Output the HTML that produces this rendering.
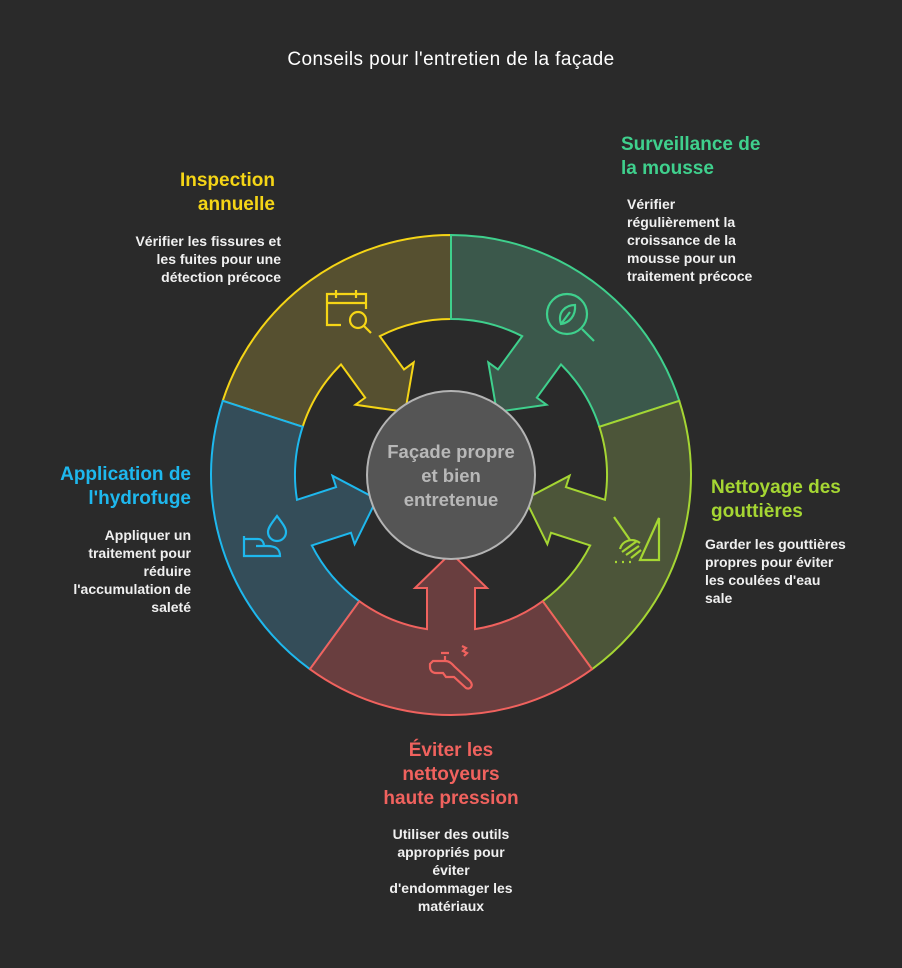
<!DOCTYPE html>
<html><head><meta charset="utf-8"><style>
html,body{margin:0;padding:0;background:#2a2a2a;}
body{width:902px;height:968px;position:relative;overflow:hidden;font-family:"Liberation Sans",sans-serif;}
.t{position:absolute;white-space:nowrap;}
.h{font-weight:bold;font-size:19px;line-height:24px;}
.b{color:#f0f0f0;font-size:14px;line-height:18px;font-weight:bold;}
.r{text-align:right}.c{text-align:center}
</style></head><body>
<svg width="902" height="968" style="position:absolute;left:0;top:0">
<defs>
<path id="seg" d="M 141.07 194.16 A 240 240 0 0 1 -141.07 194.16 L -91.69 126.21 A 156 156 0 0 0 -24 154.14 L -24 113 L -36 113 L 0 78 L 36 113 L 24 113 L 24 154.14 A 156 156 0 0 0 91.69 126.21 Z"/>
</defs>
<g transform="translate(451,475)" stroke-width="2" stroke-linejoin="miter">
<use href="#seg" transform="rotate(144)" fill="#565030" stroke="#f5d516"/>
<use href="#seg" transform="rotate(216)" fill="#3b584b" stroke="#3fd08d"/>
<use href="#seg" transform="rotate(-72)" fill="#4c5539" stroke="#a5d633"/>
<use href="#seg" transform="rotate(72)" fill="#344d59" stroke="#1eb8ee"/>
<use href="#seg" fill="#693e3f" stroke="#f0625e"/>
<circle r="84" fill="#555555" stroke="#b4b4b4" stroke-width="2"/>
</g>
<text x="451" y="458" text-anchor="middle" font-family="Liberation Sans" font-weight="bold" font-size="18.5" fill="#b8b8b8">Façade propre</text>
<text x="451" y="482" text-anchor="middle" font-family="Liberation Sans" font-weight="bold" font-size="18.5" fill="#b8b8b8">et bien</text>
<text x="451" y="506" text-anchor="middle" font-family="Liberation Sans" font-weight="bold" font-size="18.5" fill="#b8b8b8">entretenue</text>
<g fill="none" stroke="#f5d516" stroke-width="2.2">
<path d="M341 325 H327 V294 H366 V309 M327 303 H366 M336 290 V298 M356 290 V298"/>
<circle cx="358" cy="320" r="8"/><path d="M364 326 L371 333"/>
</g>
<g fill="none" stroke="#3fd08d" stroke-width="2.2">
<circle cx="567" cy="314" r="20"/><path d="M582 329 L594 341"/>
<path d="M561 324 C557 312 566 305 575 305 C576 316 569 323 561 324 Z M561 324 L570 312"/>
</g>
<g fill="none" stroke="#a5d633" stroke-width="2.2">
<path d="M614 517 L630 540 M620 549 C622 541 632 537 640 543 M622 552 L637 541 M626 555 L639 546 M631 558 L641 550 M659 518 V560 H640 Z M615 562 H617 M622 562 H624 M629 562 H631"/>
</g>
<g fill="none" stroke="#1eb8ee" stroke-width="2.2">
<path d="M277 516 C271 524 268 528 268 532 A6 6 0 0 0 286 532 C286 528 283 524 277 516 Z"/>
<path d="M244 536 V556 H280 C280 549 276 546 267 546 H256 M244 539 H258 C263 539 264 544 264 546"/>
</g>
<g fill="none" stroke="#f0625e" stroke-width="2.2">
<path d="M433 661 H445 C450 661 452 664 455 667 L470 681 C474 686 470 690 466 688 L454 677 H446 L443 673 H436 C432 673 430 670 430 667 V664 Z M445 661 V656 M441 653 H449 M462 646 L466 648 L463 651 L467 653 L464 656"/>
</g>
</svg>
<div class="t" style="left:0;width:902px;top:49px;text-align:center;color:#fff;font-size:19px;letter-spacing:0.4px;">Conseils pour l'entretien de la façade</div>

<div class="t h r" style="right:627px;top:169px;color:#f5d516">Inspection<br>annuelle</div>
<div class="t b r" style="right:621px;top:232px">Vérifier les fissures et<br>les fuites pour une<br>détection précoce</div>

<div class="t h" style="left:621px;top:133px;color:#3fd08d">Surveillance de<br>la mousse</div>
<div class="t b" style="left:627px;top:195px">Vérifier<br>régulièrement la<br>croissance de la<br>mousse pour un<br>traitement précoce</div>

<div class="t h" style="left:711px;top:476px;color:#a5d633">Nettoyage des<br>gouttières</div>
<div class="t b" style="left:705px;top:535px">Garder les gouttières<br>propres pour éviter<br>les coulées d'eau<br>sale</div>

<div class="t h r" style="right:711px;top:463px;color:#1eb8ee">Application de<br>l'hydrofuge</div>
<div class="t b r" style="right:711px;top:526px">Appliquer un<br>traitement pour<br>réduire<br>l'accumulation de<br>saleté</div>

<div class="t h c" style="left:301px;width:300px;top:739px;color:#f0625e">Éviter les<br>nettoyeurs<br>haute pression</div>
<div class="t b c" style="left:301px;width:300px;top:825px">Utiliser des outils<br>appropriés pour<br>éviter<br>d'endommager les<br>matériaux</div>
</body></html>
